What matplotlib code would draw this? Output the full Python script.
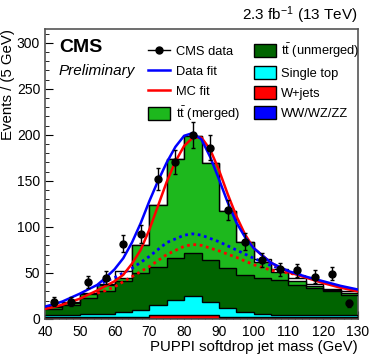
import matplotlib
matplotlib.use("Agg")
import matplotlib.pyplot as plt
import numpy as np
from matplotlib.lines import Line2D
from matplotlib.patches import Patch

plt.rcParams["font.family"] = ["Liberation Sans", "DejaVu Sans"]
plt.rcParams["mathtext.fontset"] = "custom"
plt.rcParams["mathtext.rm"] = "Liberation Sans"
plt.rcParams["mathtext.it"] = "Liberation Sans:italic"

# 5 GeV bins, 40-130 GeV
bin_edges = list(range(40, 135, 5))

# stacked backgrounds (events per bin)
ww_wz_zz = [0.5] * 18
w_jets = [1.5, 1.5, 1.5, 1.5, 1.5, 1.5, 3.5, 3.5, 3.5, 3.5, 1.5, 1.5, 1.5, 1.5, 1.5, 1.5, 1.5, 1.5]
single_top = [1.9, 2.6, 3.4, 3.8, 5.2, 7.4, 11.5, 17, 21.3, 14, 9.5, 5.5, 3.5, 2.8, 2.5, 2.3, 2.0, 2.0]
tt_unmerged = [7.1, 10.9, 17.6, 24.7, 33.8, 40.6, 40.5, 45, 46.7, 46, 43.5, 40.5, 39.5, 37.9, 32.8, 29.4, 26, 22.4]
tt_merged = [2, 1.5, 4, 6.5, 4, 30, 68, 108, 127, 105, 62, 36, 17, 8.3, 3.7, 2.3, 1, 1.6]

# black outline histogram
mc_outline = [14.5, 19, 28, 38, 52, 80, 124, 174, 199, 169, 117, 84, 65, 54, 44, 38, 33, 30]

# data points
data_mass = [42.5, 47.5, 52.5, 57.5, 62.5, 67.5, 72.5, 77.5, 82.5, 87.5,
             92.5, 97.5, 102.5, 107.5, 112.5, 117.5, 122.5, 127.5]
data_counts = [19, 19, 40, 45, 82, 92, 152, 171, 200, 186,
               118, 84, 64, 54, 53, 46, 49, 17]

# fit curves
fit_mass = [40, 42.5, 45, 50, 55, 57.5, 60, 62.5, 65, 67.5, 70, 72.5, 75, 77.5, 80,
            82.5, 85, 87.5, 90, 92.5, 95, 97.5, 100, 105, 110, 115, 120, 125, 130]
data_fit = [13.5, 16, 19, 27.5, 37, 45, 54, 66, 83, 104, 128, 150, 170, 187, 199,
            202, 195, 176, 152, 127, 105, 89, 77, 61, 52, 46, 41, 36, 32]
mc_fit = [11, 13, 15.5, 22, 31, 36, 41, 48, 60, 75, 97, 123, 149, 171, 188,
          197, 197, 184, 162, 136, 112, 92, 77, 61, 51, 45, 39, 34, 30]

bkg_mass = [55, 57.5, 60, 65, 70, 75, 80, 82.5, 85, 90, 95, 100, 105, 110, 115]
data_bkg = [36, 41, 45, 55, 68, 83, 91, 92.5, 91, 84, 75, 66, 58, 52, 46]
mc_bkg = [28, 31, 35, 46, 57, 70, 79, 81, 80, 74, 67, 59, 53, 50, 46]

W, H = 374, 363
fig = plt.figure(figsize=(W / 100, H / 100), dpi=100)
ax = fig.add_axes([45 / W, 1 - 319 / H, 313 / W, 290 / H])

edges = np.array(bin_edges)
ax.stairs(mc_outline, edges, color="black", lw=1, baseline=None, zorder=1)

components = [
    (ww_wz_zz, "#0000ff", "WW/WZ/ZZ"),
    (w_jets, "#ff0000", "W+jets"),
    (single_top, "#00ffff", "Single top"),
    (tt_unmerged, "#006400", r"$\mathrm{t\bar{t}}$ (unmerged)"),
    (tt_merged, "#1db81d", r"$\mathrm{t\bar{t}}$ (merged)"),
]
base = np.zeros(len(edges) - 1)
for vals, col, lab in components:
    top = base + np.array(vals)
    ax.stairs(top, edges, baseline=base, fill=True, color=col, lw=0, zorder=2)
    ax.stairs(top, edges, baseline=None, color="black", lw=1, zorder=3)
    base = top

ax.plot(bkg_mass, data_bkg, color="#0000ff", lw=2, ls=(0, (1, 1.3)), zorder=4)
ax.plot(bkg_mass, mc_bkg, color="#ff0000", lw=2, ls=(0, (1, 1.3)), zorder=4)
ax.plot(fit_mass, mc_fit, color="#ff0000", lw=1.8, zorder=5)
ax.plot(fit_mass, data_fit, color="#0000ff", lw=1.8, zorder=5)

ax.errorbar(data_mass, data_counts, yerr=np.sqrt(data_counts), fmt="o", color="black",
            ms=5, lw=1, capsize=1.5, zorder=6)

ax.set_xlim(40, 130)
ax.set_ylim(0, 315)
ax.set_xticks(range(40, 131, 10))
ax.set_xticks(np.arange(40, 131, 2), minor=True)
ax.set_yticks(range(0, 301, 50))
ax.set_yticks(range(0, 311, 10), minor=True)
ax.tick_params(which="both", direction="in", labelsize=10, colors="black")
ax.tick_params(which="major", length=6)
ax.tick_params(which="minor", length=3)
ax.tick_params(axis="x", pad=4)
for s in ax.spines.values():
    s.set_color("#555555")
    s.set_linewidth(1.2)

ax.set_xlabel("PUPPI softdrop jet mass (GeV)", fontsize=10.8, loc="right")
ax.xaxis.set_label_coords(1.0, -0.072)
ax.set_ylabel("Events / (5 GeV)", fontsize=10.8, loc="top")
ax.yaxis.set_label_coords(-0.095, 1.0)

fig.text(358 / W, 1 - 15 / H, r"2.3 fb$^{\mathrm{-1}}$ (13 TeV)", fontsize=11,
         ha="right", va="center")
fig.text(59 / W, 1 - 48 / H, "CMS", fontsize=14, fontweight="bold", ha="left", va="center")
fig.text(59 / W, 1 - 71 / H, "Preliminary", fontsize=11, style="italic", ha="left", va="center")

handles = [
    Line2D([], [], color="black", marker="o", ms=5, lw=1),
    Line2D([], [], color="#0000ff", lw=1.8),
    Line2D([], [], color="#ff0000", lw=1.8),
    Patch(facecolor="#1db81d", edgecolor="black"),
    Patch(facecolor="#006400", edgecolor="black"),
    Patch(facecolor="#00ffff", edgecolor="black"),
    Patch(facecolor="#ff0000", edgecolor="black"),
    Patch(facecolor="#0000ff", edgecolor="black"),
]
labels = ["CMS data", "Data fit", "MC fit", r"$\mathrm{t\bar{t}}$ (merged)",
          r"$\mathrm{t\bar{t}}$ (unmerged)", "Single top", "W+jets", "WW/WZ/ZZ"]
fig.legend(handles, labels, ncol=2, loc="upper left", bbox_to_anchor=(142 / W, 1 - 35 / H),
           frameon=False, fontsize=9.3, handlelength=1.7, handleheight=1.1,
           labelspacing=0.5, columnspacing=1.1, handletextpad=0.4, borderpad=0)

fig.savefig("out.png", dpi=100)
